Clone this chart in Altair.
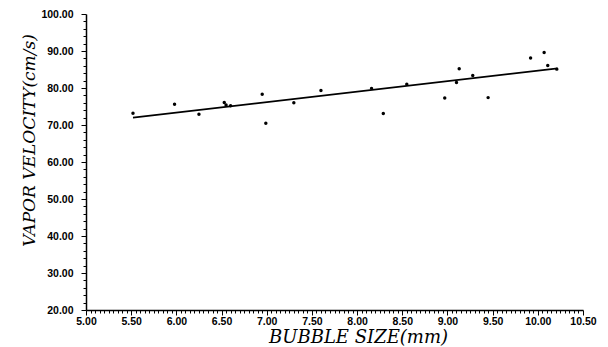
import altair as alt
import pandas as pd

# Measured points: bubble size (mm) vs vapor velocity (cm/s)
bubble_size = [5.52, 5.98, 6.25, 6.53, 6.55, 6.60, 6.95, 6.99, 7.30, 7.60,
               8.16, 8.29, 8.55, 8.97, 9.10, 9.13, 9.28, 9.45, 9.92, 10.07,
               10.11, 10.21]
vapor_velocity = [73.2, 75.6, 72.9, 76.1, 75.4, 75.2, 78.3, 70.5, 76.0, 79.3,
                  79.9, 73.1, 81.0, 77.3, 81.5, 85.2, 83.4, 77.4, 88.1, 89.6,
                  86.1, 85.1]

# Fitted line end points
fit_x = [5.52, 10.22]
fit_y = [72.0, 85.3]

x_ticks = [round(5.0 + 0.05 * i, 2) for i in range(111)]
y_ticks = [20 + 2 * i for i in range(41)]

pts = pd.DataFrame({"x": bubble_size, "y": vapor_velocity})
fit = pd.DataFrame({"x": fit_x, "y": fit_y})

xscale = alt.Scale(domain=[5.0, 10.5], nice=False, zero=False)
yscale = alt.Scale(domain=[20, 100], nice=False, zero=False)

label_font = "Liberation Sans"
title_font = "DejaVu Serif"

xaxis = alt.Axis(
    values=x_ticks,
    tickCount=500,
    grid=False,
    domainColor="black",
    domainWidth=1.5,
    tickColor="black",
    tickWidth=1,
    tickSize={"condition": {"test": "abs(round(datum.value*2) - datum.value*2) < 0.001", "value": 5}, "value": 3},
    labelExpr="abs(round(datum.value*2) - datum.value*2) < 0.001 ? format(datum.value, '.2f') : ''",
    labelFont=label_font,
    labelFontWeight="bold",
    labelFontSize=10.5,
    labelColor="black",
    labelPadding=1,
    labelOverlap=False,
    labelFlush=False,
    title="BUBBLE SIZE(mm)",
    titleFont=title_font,
    titleFontStyle="italic",
    titleFontWeight="normal",
    titleFontSize=18,
    titleColor="black",
    titleX=272,
    titleY=27,
    titleAlign="center",
    titleBaseline="middle",
)

yaxis = alt.Axis(
    values=y_ticks,
    tickCount=500,
    grid=False,
    domainColor="black",
    domainWidth=1.5,
    tickColor="black",
    tickWidth=1,
    tickSize={"condition": {"test": "datum.value % 10 == 0", "value": 5}, "value": 3},
    labelExpr="datum.value % 10 == 0 ? format(datum.value, '.2f') : ''",
    labelFont=label_font,
    labelFontWeight="bold",
    labelFontSize=10.5,
    labelColor="black",
    labelPadding=8,
    labelOverlap=False,
    labelFlush=False,
    title="VAPOR VELOCITY(cm/s)",
    titleFont=title_font,
    titleFontStyle="italic",
    titleFontWeight="normal",
    titleFontSize=17,
    titleColor="black",
    titleAngle=-90,
    titleX=-57,
    titleY=126,
    titleAlign="center",
    titleBaseline="middle",
)

points = alt.Chart(pts).mark_circle(color="black", size=12, opacity=1).encode(
    x=alt.X("x:Q", scale=xscale, axis=xaxis),
    y=alt.Y("y:Q", scale=yscale, axis=yaxis),
)

line = alt.Chart(fit).mark_line(color="black", strokeWidth=1.6).encode(
    x=alt.X("x:Q", scale=xscale),
    y=alt.Y("y:Q", scale=yscale),
)

chart = (
    alt.layer(line, points)
    .properties(
        width=497,
        height=296,
        autosize=alt.AutoSizeParams(type="none"),
        padding={"left": 86, "top": 14, "right": 25, "bottom": 37},
        background="white",
    )
    .configure_view(stroke=None)
)

chart.save("out.html", embed_options={"renderer": "svg", "actions": False})
